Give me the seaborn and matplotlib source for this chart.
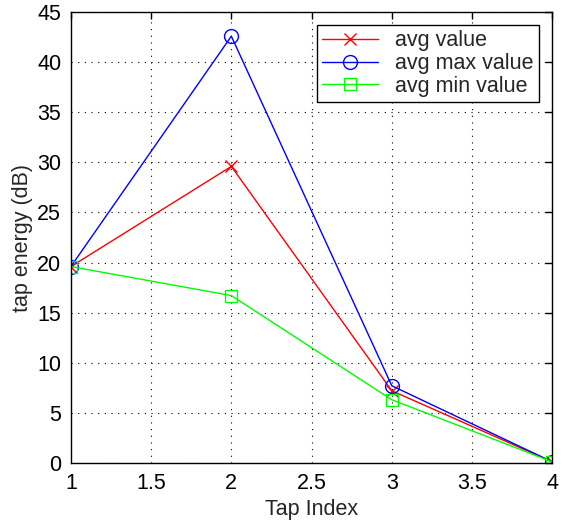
import matplotlib
matplotlib.use("Agg")
import matplotlib.pyplot as plt
import seaborn as sns
import pandas as pd

tap_index = [1, 2, 3, 4]
avg_value = [19.6, 29.6, 7.2, 0.1]
avg_max_value = [19.6, 42.6, 7.7, 0.1]
avg_min_value = [19.6, 16.7, 6.3, 0.1]

series_names = ["avg value", "avg max value", "avg min value"]
series_colors = ["#ff0000", "#0000ff", "#00ff00"]
series_markers = ["x", "o", "s"]

df = pd.DataFrame({
    "Tap Index": tap_index * 3,
    "value": avg_value + avg_max_value + avg_min_value,
    "series": [s for s in series_names for _ in tap_index],
})

sns.set_style("white")
plt.rcParams["font.family"] = ["Liberation Sans", "DejaVu Sans"]

fig = plt.figure(figsize=(5.67, 5.29), dpi=100)
ax = fig.add_axes([0.125, 0.125, 0.849, 0.852])

for name, color, marker in zip(series_names, series_colors, series_markers):
    sub = df[df["series"] == name]
    sns.lineplot(data=sub, x="Tap Index", y="value", ax=ax, color=color,
                 marker=marker, markersize=10 if marker == "o" else 8,
                 markerfacecolor="none", markeredgecolor=color,
                 markeredgewidth=1.0, linewidth=1.0, label=name)

ax.set_xlim(1, 4)
ax.set_ylim(0, 45)
ax.set_xticks([1, 1.5, 2, 2.5, 3, 3.5, 4])
ax.set_xticklabels(["1", "1.5", "2", "2.5", "3", "3.5", "4"])
ax.set_yticks(range(0, 50, 5))
ax.grid(True, color="black", linestyle=(0, (1, 5)), linewidth=0.8)
ax.tick_params(direction="in", length=5, width=1, labelsize=15.5,
               top=True, right=True, pad=7, colors="black")
for sp in ax.spines.values():
    sp.set_color("black")
    sp.set_linewidth(1.0)

ax.set_xlabel("Tap Index", fontsize=15.5, labelpad=4)
ax.set_ylabel("tap energy (dB)", fontsize=15.5, labelpad=3)

leg = ax.legend(loc="upper right", fontsize=15.5, frameon=True, fancybox=False,
                edgecolor="black", framealpha=1, borderpad=0.25,
                labelspacing=0.08, handlelength=2.6, handletextpad=0.8,
                borderaxespad=0.6)
leg.get_frame().set_linewidth(1.0)

fig.savefig("out.png", dpi=100)
